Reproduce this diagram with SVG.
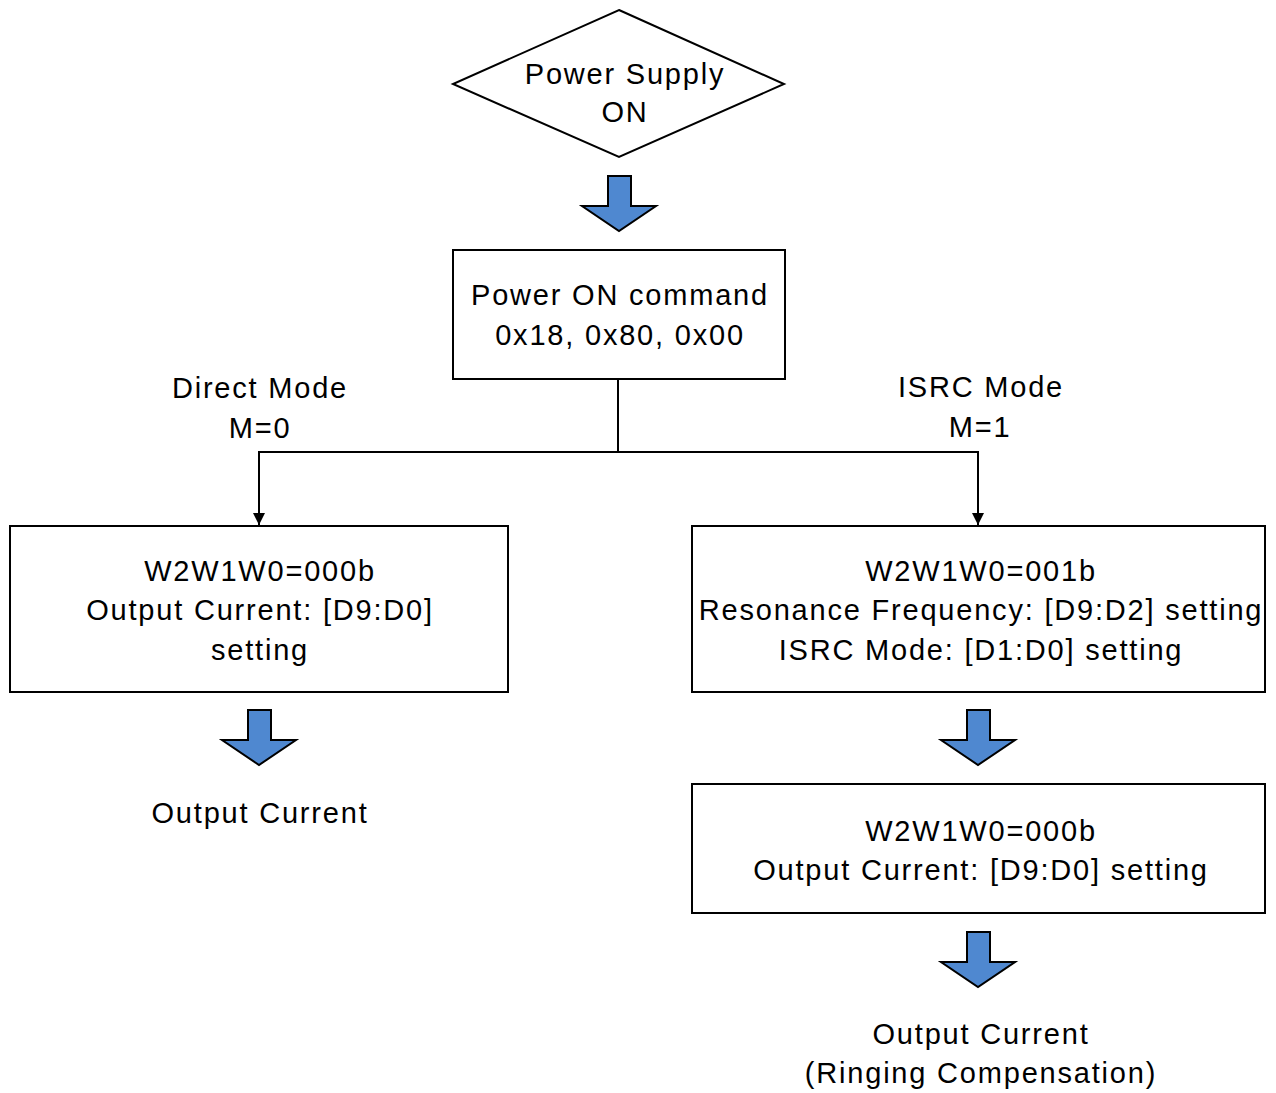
<svg xmlns="http://www.w3.org/2000/svg" width="1276" height="1093" viewBox="0 0 1276 1093">
<defs>
<style>
.shape{fill:#fff;stroke:#000;stroke-width:2}
.blk{fill:#4f88d0;stroke:#000;stroke-width:2;stroke-linejoin:miter}
.t{font-family:"Liberation Sans",Arial,sans-serif;font-size:29px;fill:#000;text-anchor:middle;letter-spacing:1.8px}
.ln{fill:none;stroke:#000;stroke-width:2}
</style>
<marker id="ah" markerWidth="12" markerHeight="14" refX="10" refY="5" orient="auto" markerUnits="userSpaceOnUse" viewBox="0 0 10 10">
<path d="M0,0 L10,5 L0,10 z" fill="#000"/>
</marker>
<path id="barrow" d="M-11,0 H12 V30 H37 L0,55 L-37,30 H-11 Z"/>
</defs>
<rect width="1276" height="1093" fill="#fff"/>

<g id="power-supply">
<polygon class="shape" points="619,10 784,84 619,157 453,84"/>
<text class="t" x="625" y="84">Power Supply</text>
<text class="t" x="625" y="122">ON</text>
</g>

<g id="arrow1"><use href="#barrow" class="blk" transform="translate(619,176)"/></g>

<g id="power-on">
<rect class="shape" x="453" y="250" width="332" height="129"/>
<text class="t" x="620" y="305">Power ON command</text>
<text class="t" x="620" y="345">0x18, 0x80, 0x00</text>
</g>

<g id="connectors">
<path class="ln" d="M618,379 V452"/>
<path class="ln" d="M618,452 H259 V525" marker-end="url(#ah)"/>
<path class="ln" d="M618,452 H978 V525" marker-end="url(#ah)"/>
</g>

<g id="label-direct">
<text class="t" x="260" y="398">Direct Mode</text>
<text class="t" x="260" y="438">M=0</text>
</g>
<g id="label-isrc">
<text class="t" x="981" y="397">ISRC Mode</text>
<text class="t" x="980" y="437">M=1</text>
</g>

<g id="direct-box">
<rect class="shape" x="10" y="526" width="498" height="166"/>
<text class="t" x="260" y="581">W2W1W0=000b</text>
<text class="t" x="260" y="620">Output Current: [D9:D0]</text>
<text class="t" x="260" y="660">setting</text>
</g>

<g id="isrc-box">
<rect class="shape" x="692" y="526" width="573" height="166"/>
<text class="t" x="981" y="581">W2W1W0=001b</text>
<text class="t" x="981" y="620">Resonance Frequency: [D9:D2] setting</text>
<text class="t" x="981" y="660">ISRC Mode: [D1:D0] setting</text>
</g>

<g id="arrow2"><use href="#barrow" class="blk" transform="translate(259,710)"/></g>
<g id="out-direct"><text class="t" x="260" y="823">Output Current</text></g>

<g id="arrow3"><use href="#barrow" class="blk" transform="translate(978,710)"/></g>

<g id="isrc-out-box">
<rect class="shape" x="692" y="784" width="573" height="129"/>
<text class="t" x="981" y="841">W2W1W0=000b</text>
<text class="t" x="981" y="880">Output Current: [D9:D0] setting</text>
</g>

<g id="arrow4"><use href="#barrow" class="blk" transform="translate(978,932)"/></g>
<g id="out-isrc">
<text class="t" x="981" y="1044">Output Current</text>
<text class="t" x="981" y="1083">(Ringing Compensation)</text>
</g>
</svg>
